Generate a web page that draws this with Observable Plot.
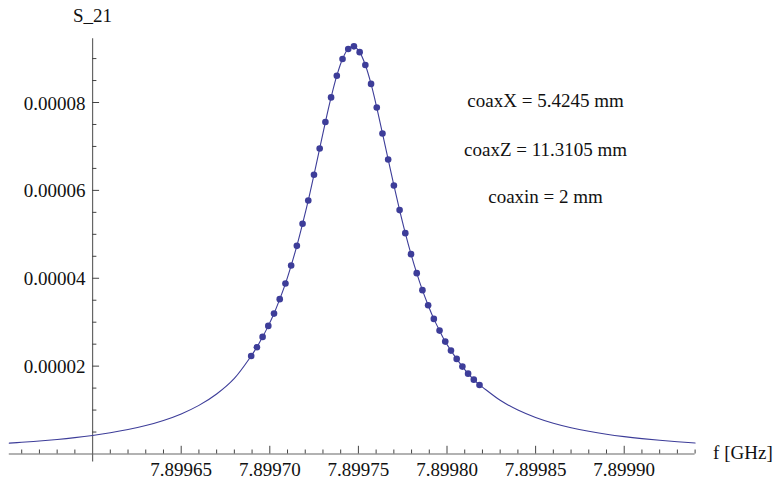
<!DOCTYPE html>
<html><head><meta charset="utf-8">
<script src="https://cdn.jsdelivr.net/npm/d3@7"></script>
<script src="https://cdn.jsdelivr.net/npm/@observablehq/plot@0.6"></script>
<style>body{margin:0;background:#fff}</style>
</head><body><div id="chart"></div>
<script>
// measured points (f in GHz, S_21)
const dotFreq = [7.89968950,7.89969272,7.89969594,7.89969916,7.89970238,7.89970561,7.89970883,7.89971205,7.89971527,7.89971849,
  7.89972171,7.89972493,7.89972815,7.89973137,7.89973459,7.89973782,7.89974104,7.89974426,7.89974748,7.89975070,
  7.89975392,7.89975714,7.89976036,7.89976358,7.89976680,7.89977003,7.89977325,7.89977647,7.89977969,7.89978291,
  7.89978613,7.89978935,7.89979257,7.89979579,7.89979901,7.89980224,7.89980546,7.89980868,7.89981190,7.89981512,7.89981834];
const dotS21 = [2.232e-5,2.431e-5,2.665e-5,2.916e-5,3.196e-5,3.524e-5,3.879e-5,4.289e-5,4.738e-5,5.239e-5,
  5.770e-5,6.355e-5,6.954e-5,7.556e-5,8.116e-5,8.610e-5,8.991e-5,9.219e-5,9.278e-5,9.146e-5,
  8.854e-5,8.424e-5,7.886e-5,7.296e-5,6.704e-5,6.112e-5,5.551e-5,5.027e-5,4.549e-5,4.116e-5,
  3.729e-5,3.387e-5,3.075e-5,2.809e-5,2.558e-5,2.353e-5,2.164e-5,1.989e-5,1.829e-5,1.692e-5,1.572e-5];
// fitted curve tails
const tailLeftFreq = [7.899553,7.89956,7.89957,7.89958,7.89959,7.89960,7.89961,7.89962,7.89963,7.89964,7.89965,7.89966,7.89967,7.89968];
const tailLeftS21 = [0.247e-5,0.266e-5,0.295e-5,0.330e-5,0.372e-5,0.422e-5,0.482e-5,0.556e-5,0.648e-5,0.764e-5,0.913e-5,1.107e-5,1.367e-5,1.722e-5];
const tailRightFreq = [7.89982,7.89983,7.89984,7.89985,7.89986,7.89987,7.89988,7.89989,7.89990,7.89991,7.89992,7.89993,7.89994];
const tailRightS21 = [1.523e-5,1.222e-5,0.999e-5,0.831e-5,0.700e-5,0.598e-5,0.516e-5,0.449e-5,0.395e-5,0.350e-5,0.312e-5,0.279e-5,0.252e-5];

const xTicks = [7.89965,7.89970,7.89975,7.89980,7.89985,7.89990];
const xMinor = [7.89956,7.89957,7.89958,7.89959,7.89961,7.89962,7.89963,7.89964,7.89966,7.89967,7.89968,7.89969,
  7.89971,7.89972,7.89973,7.89974,7.89976,7.89977,7.89978,7.89979,7.89981,7.89982,7.89983,7.89984,
  7.89986,7.89987,7.89988,7.89989,7.89991,7.89992,7.89993,7.89994];
const yTicks = [0.00002,0.00004,0.00006,0.00008];
const yMinor = [0.000005,0.00001,0.000015,0.000025,0.00003,0.000035,0.000045,0.00005,0.000055,0.000065,0.00007,0.000075,0.000085,0.00009];
const notes = ["coaxX = 5.4245 mm","coaxZ = 11.3105 mm","coaxin = 2 mm"];

const xOrigin = 7.8996;
const xDomain = [7.899553, 7.89994];
const yDomain = [0, 9.45e-5];
const W = 776, H = 481;
const mL = 8.8, mR = 81.4, mT = 38.3, mB = 27.5;
// pixel-to-data factors for tick lengths
const pxX = (xDomain[1]-xDomain[0])/(W-mL-mR);
const pxY = (yDomain[1]-yDomain[0])/(H-mT-mB);

const dots = dotFreq.map((f,i)=>({f, s: dotS21[i]}));
const curve = [
  ...tailLeftFreq.map((f,i)=>({f, s: tailLeftS21[i]})),
  ...dots,
  ...tailRightFreq.map((f,i)=>({f, s: tailRightS21[i]}))
];

const col = "#3d3d99", axisCol = "#666";
const font = "Liberation Serif, Times New Roman, serif";

const chart = Plot.plot({
  width: W, height: H,
  marginLeft: mL, marginRight: mR, marginTop: mT, marginBottom: mB,
  x: {domain: xDomain, axis: null},
  y: {domain: yDomain, axis: null},
  style: {fontFamily: font, background: "#fff", overflow: "visible"},
  marks: [
    // axes
    Plot.ruleY([0], {x1: xDomain[0], x2: xDomain[1], stroke: axisCol, strokeWidth: 1.2}),
    Plot.ruleX([xOrigin], {y1: -8*pxY, y2: yDomain[1], stroke: axisCol, strokeWidth: 1.2}),
    Plot.ruleX(xTicks, {x: d=>d, y1: 0, y2: 7.7*pxY, stroke: "#444", strokeWidth: 1}),
    Plot.ruleX(xMinor, {x: d=>d, y1: 0, y2: 4*pxY, stroke: "#444", strokeWidth: 1}),
    Plot.ruleY(yTicks, {y: d=>d, x1: xOrigin, x2: xOrigin + 7*pxX, stroke: "#444", strokeWidth: 1}),
    Plot.ruleY(yMinor, {y: d=>d, x1: xOrigin, x2: xOrigin + 4.3*pxX, stroke: "#444", strokeWidth: 1}),
    Plot.text(xTicks, {x: d=>d, y: ()=>0, text: d=>d.toFixed(5), dy: 16, fontSize: 19, fill: "#111"}),
    Plot.text(yTicks, {x: ()=>xOrigin, y: d=>d, text: d=>d.toFixed(5), textAnchor: "end", dx: -7, dy: 1, fontSize: 19, fill: "#111"}),
    Plot.text(["S_21"], {x: ()=>xOrigin, y: ()=>yDomain[1], dy: -23, fontSize: 19, fill: "#111"}),
    Plot.text(["f [GHz]"], {x: ()=>xDomain[1], y: ()=>0, textAnchor: "start", dx: 18, dy: -1, fontSize: 19, fill: "#111"}),
    // data
    Plot.line(curve, {x: "f", y: "s", stroke: col, strokeWidth: 1.1, curve: "catmull-rom"}),
    Plot.dot(dots, {x: "f", y: "s", r: 3.3, fill: col, stroke: "none"}),
    // annotations
    Plot.text(notes, {x: ()=>7.8998556, y: (d,i)=>[8.03e-5, 6.93e-5, 5.86e-5][i], text: d=>d, fontSize: 19, fill: "#111"})
  ]
});
document.getElementById("chart").appendChild(chart);
</script>
</body></html>
